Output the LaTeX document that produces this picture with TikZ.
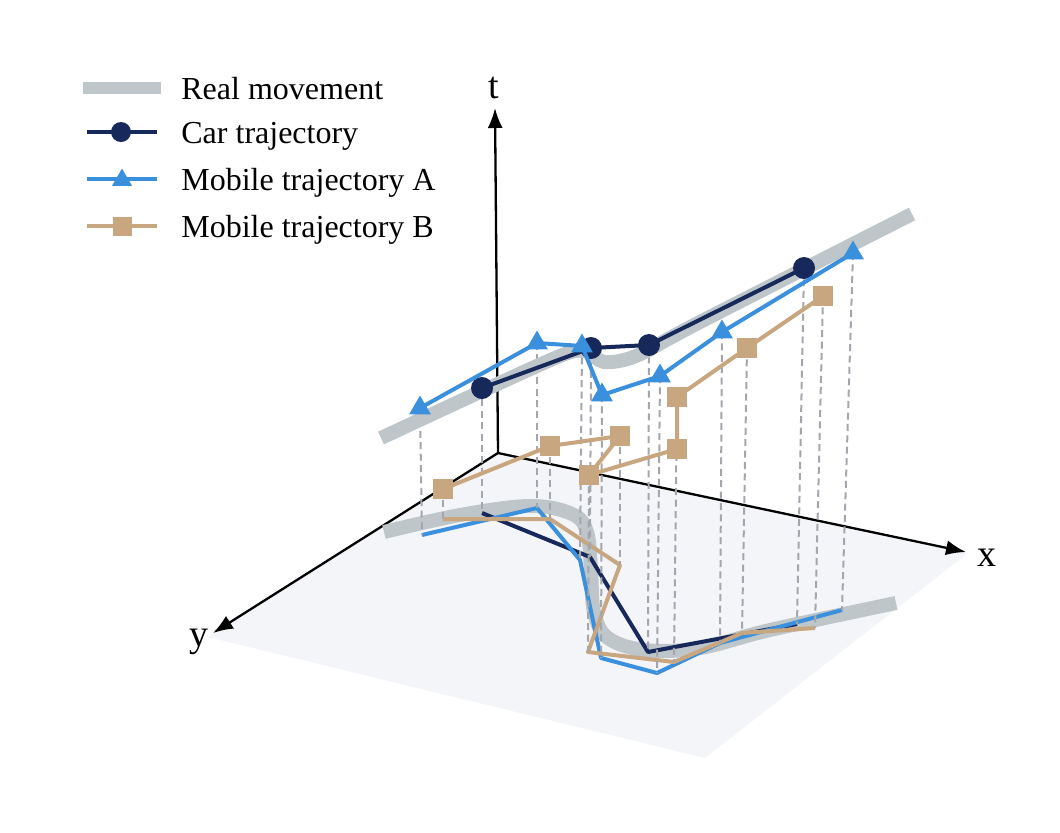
\documentclass[tikz,border=0pt]{standalone}
\usepackage{fontspec}
\setmainfont{Liberation Serif}
\usetikzlibrary{arrows.meta,shapes.geometric}
\definecolor{band}{HTML}{BEC6CA}
\definecolor{carc}{HTML}{17285A}
\definecolor{mobA}{HTML}{3A90DC}
\definecolor{mobB}{HTML}{C8A67F}
\definecolor{floorc}{HTML}{F4F5F8}
\definecolor{dropc}{HTML}{A4A6AE}
\begin{document}
\begin{tikzpicture}[x=0.5pt,y=-0.5pt,
  axisline/.style={line width=1.15pt,black,-{Latex[length=10pt,width=7.5pt]}},
  axislabel/.style={font=\fontsize{19}{22}\selectfont,inner sep=0pt},
  bandline/.style={line width=7pt,band,line cap=butt},
  carline/.style={line width=2pt,carc,line join=round},
  aline/.style={line width=2pt,mobA,line join=round},
  bline/.style={line width=2pt,mobB,line join=round},
  carmark/.style={circle,fill=carc,inner sep=0pt,minimum size=11pt},
  amark/.style={regular polygon,regular polygon sides=3,fill=mobA,inner sep=0pt,minimum size=12.5pt},
  bmark/.style={rectangle,fill=mobB,inner sep=0pt,minimum size=10pt},
  dropline/.style={line width=1pt,dropc,dash pattern=on 3.5pt off 2.2pt},
  legtext/.style={anchor=base west,inner sep=0pt,font=\fontsize{16}{19}\selectfont}]
\useasboundingbox (0,0) rectangle (1060,832);
% floor plane
\fill[floorc] (498,453) -- (208,637) -- (705,758) -- (968,553) -- cycle;
% axes
\coordinate (O) at (498,453);
\coordinate (T) at (495,108);
\coordinate (X) at (966,552);
\coordinate (Y) at (213,633);
\draw[axisline] (O) -- (T);
\draw[axisline] (O) -- (X);
\draw[axisline] (O) -- (Y);
\node[axislabel] (tl) at (494,88) {t};
\node[axislabel] (xl) at (987,558) {x};
\node[axislabel] (yl) at (199,642) {y};
% floor coordinates
\coordinate (cf1) at (482,513); \coordinate (cf2) at (590,557);
\coordinate (cf3) at (648,652); \coordinate (cf4) at (797,624);
\coordinate (af1) at (422,535); \coordinate (af2) at (537,508);
\coordinate (af3) at (580,560); \coordinate (af4) at (601,658);
\coordinate (af5) at (657,673); \coordinate (af6) at (720,643);
\coordinate (af7) at (842,610);
\coordinate (bf1) at (443,519); \coordinate (bf2) at (550,519);
\coordinate (bf3) at (620,565); \coordinate (bf4) at (588,652);
\coordinate (bf5) at (674,662); \coordinate (bf6) at (742,633);
\coordinate (bf7) at (815,628);
% upper coordinates
\coordinate (c1) at (482,388); \coordinate (c2) at (591,348);
\coordinate (c3) at (649,345); \coordinate (c4) at (804,268);
\coordinate (a1) at (420,408); \coordinate (a2) at (537,343);
\coordinate (a3) at (582,346); \coordinate (a4) at (602,395);
\coordinate (a5) at (660,376); \coordinate (a6) at (722,332);
\coordinate (a7) at (853,253);
\coordinate (b1) at (443,489); \coordinate (b2) at (550,446);
\coordinate (b3) at (620,436); \coordinate (b4) at (589,475);
\coordinate (b5) at (677,449); \coordinate (b6) at (677,397);
\coordinate (b7) at (747,348); \coordinate (b8) at (823,296);
% floor real movement
\draw[bandline] plot[smooth,tension=0.6] coordinates {(384,532) (460,515) (530,506) (572,514) (587,532) (591,570) (594,612) (608,638) (645,650) (700,648) (770,630) (896,603)};
% floor trajectories
\draw[carline] (cf1) -- (cf2) -- (cf3) -- (cf4);
\draw[aline] (af1) -- (af2) -- (af3) -- (af4) -- (af5) -- (af6) -- (af7);
\draw[bline] (bf1) -- (bf2) -- (bf3) -- (bf4) -- (bf5) -- (bf6) -- (bf7);
% drop lines
\foreach \u/\f in {c1/cf1,c2/cf2,c3/cf3,c4/cf4,a1/af1,a2/af2,a3/af3,a4/af4,a5/af5,a6/af6,a7/af7,b1/bf1,b2/bf2,b3/bf3,b4/bf4,b6/bf5,b7/bf6,b8/bf7}
  \draw[dropline] (\u) -- (\f);
% upper real movement
\draw[bandline] plot[smooth,tension=0.5] coordinates {(381,438) (480,392) (565,354) (588,352) (604,362) (636,356) (700,322) (912,214)};
% upper trajectories
\draw[bline] (b1) -- (b2) -- (b3) -- (b4) -- (b5) -- (b6) -- (b7) -- (b8);
\foreach \p in {b1,b2,b3,b4,b5,b6,b7,b8} \node[bmark] (m\p) at (\p) {};
\draw[carline] (c1) -- (c2) -- (c3) -- (c4);
\foreach \p in {c1,c2,c3,c4} \node[carmark] (m\p) at (\p) {};
\draw[aline] (a1) -- (a2) -- (a3) -- (a4) -- (a5) -- (a6) -- (a7);
\foreach \p in {a1,a2,a3,a4,a5,a6,a7} \node[amark] (m\p) at (\p) {};
% legend
\coordinate (lg1a) at (83,88); \coordinate (lg1b) at (161,88);
\draw[line width=6pt,band] (lg1a) -- (lg1b);
\node[legtext] (lt1) at (181,99) {Real movement};
\coordinate (lg2a) at (87,132); \coordinate (lg2b) at (157,132);
\draw[carline] (lg2a) -- (lg2b);
\node[carmark,minimum size=10pt] (lm2) at (121,132) {};
\node[legtext] (lt2) at (181,143) {Car trajectory};
\coordinate (lg3a) at (87,179); \coordinate (lg3b) at (157,179);
\draw[aline] (lg3a) -- (lg3b);
\node[amark,minimum size=11.5pt] (lm3) at (122,180) {};
\node[legtext] (lt3) at (181,190) {Mobile trajectory A};
\coordinate (lg4a) at (87,226); \coordinate (lg4b) at (157,226);
\draw[bline] (lg4a) -- (lg4b);
\node[bmark,minimum size=9.5pt] (lm4) at (122,226) {};
\node[legtext] (lt4) at (181,237) {Mobile trajectory B};
\end{tikzpicture}
\end{document}
